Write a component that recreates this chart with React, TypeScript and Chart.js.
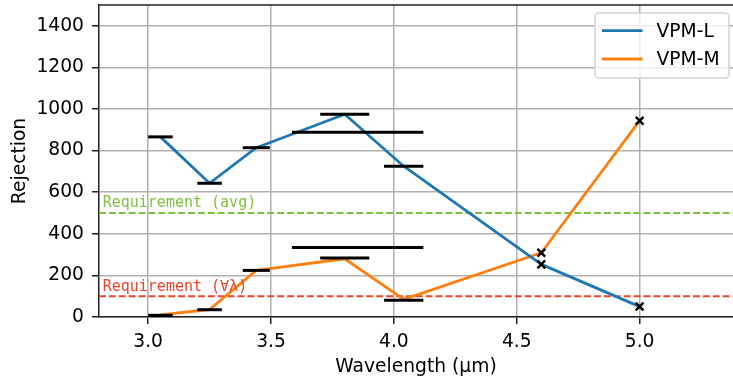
import React, { useEffect, useRef } from "react";
import { Chart, registerables } from "chart.js";

Chart.register(...registerables);

// ---- data ----
const wavelengths = [3.05, 3.25, 3.44, 3.8, 4.04, 4.6, 5.0];
const vpmL = [866, 643, 814, 975, 725, 253, 50];
const vpmM = [10, 36, 224, 280, 85, 309, 944];

const markerWavelengths = [4.6, 5.0];
const markerL = [253, 50];
const markerM = [309, 944];

const bandStart = [3.0, 3.2, 3.385, 3.7, 3.96, 3.585];
const bandEnd = [3.1, 3.3, 3.495, 3.9, 4.12, 4.12];
const bandL = [866, 643, 814, 975, 725, 888];
const bandM = [8, 35, 224, 284, 80, 334];

const requirementAvg = 500;
const requirementAll = 100;

const xTicks = [3.0, 3.5, 4.0, 4.5, 5.0];
const yTicks = [0, 200, 400, 600, 800, 1000, 1200, 1400];
const xMin = 2.8;
const xMax = 5.38;
const yMin = 0;
const yMax = 1500;

const seriesNames = ["VPM-L", "VPM-M"];
const seriesColors = ["#1f77b4", "#ff7f0e"];
const reqLabels = ["Requirement (avg)", "Requirement (\u2200\u03bb)"];
const reqColors = ["#7fbf3f", "#e8452c"];

const FONT = "'DejaVu Sans', sans-serif";
const FS = 18.7;

export default function App() {
  const ref = useRef<HTMLCanvasElement | null>(null);

  useEffect(() => {
    if (!ref.current) return;
    const datasets: any[] = [];

    // markers (on top)
    [markerL, markerM].forEach((vals) => {
      datasets.push({
        data: markerWavelengths.map((x, i) => ({ x, y: vals[i] })),
        showLine: false,
        pointStyle: "crossRot",
        pointRadius: 5.5,
        pointBorderColor: "#000",
        pointBorderWidth: 2.5,
        borderColor: "#000",
        order: 0,
      });
    });

    // band bars
    const addBands = (vals: number[]) => {
      vals.forEach((v, i) => {
        datasets.push({
          data: [
            { x: bandStart[i], y: v },
            { x: bandEnd[i], y: v },
          ],
          borderColor: "#000",
          borderWidth: 3,
          pointRadius: 0,
          borderCapStyle: "butt",
          order: 1,
        });
      });
    };
    addBands(bandL);
    addBands(bandM);

    // series lines
    [vpmL, vpmM].forEach((vals, k) => {
      datasets.push({
        data: wavelengths.map((x, i) => ({ x, y: vals[i] })),
        borderColor: seriesColors[k],
        borderWidth: 2.8,
        pointRadius: 0,
        borderJoinStyle: "round",
        order: 2,
      });
    });

    // requirement lines
    [requirementAvg, requirementAll].forEach((v, i) => {
      datasets.push({
        data: [
          { x: xMin, y: v },
          { x: xMax, y: v },
        ],
        borderColor: reqColors[i],
        borderWidth: 1.9,
        borderDash: [6.9, 3],
        pointRadius: 0,
        order: 3,
      });
    });

    const extras = {
      id: "extras",
      afterDatasetsDraw(chart: any) {
        const { ctx, chartArea, scales } = chart;
        ctx.save();
        // top spine
        ctx.strokeStyle = "#222";
        ctx.lineWidth = 1.5;
        ctx.beginPath();
        ctx.moveTo(chartArea.left - 0.75, chartArea.top);
        ctx.lineTo(chartArea.right, chartArea.top);
        ctx.stroke();

        // requirement labels
        ctx.font = `15px 'DejaVu Sans Mono', monospace`;
        ctx.textAlign = "left";
        ctx.textBaseline = "alphabetic";
        [requirementAvg, requirementAll].forEach((v, i) => {
          ctx.fillStyle = reqColors[i];
          ctx.fillText(
            reqLabels[i],
            scales.x.getPixelForValue(2.815),
            scales.y.getPixelForValue(v) - 5.6
          );
        });

        // legend
        const bx = chartArea.right - 138;
        const by = chartArea.top + 8;
        const bw = 134;
        const bh = 65;
        ctx.fillStyle = "rgba(255,255,255,0.8)";
        ctx.strokeStyle = "#d3d3d3";
        ctx.lineWidth = 1.5;
        ctx.beginPath();
        (ctx as any).roundRect(bx, by, bw, bh, 4);
        ctx.fill();
        ctx.stroke();
        ctx.font = `${FS}px ${FONT}`;
        ctx.textBaseline = "middle";
        seriesNames.forEach((name, i) => {
          const yy = by + 17.7 + i * 28.3;
          ctx.strokeStyle = seriesColors[i];
          ctx.lineWidth = 2.8;
          ctx.beginPath();
          ctx.moveTo(bx + 7, yy);
          ctx.lineTo(bx + 47.5, yy);
          ctx.stroke();
          ctx.fillStyle = "#000";
          ctx.fillText(name, bx + 61.5, yy + 1);
        });
        ctx.restore();
      },
    };

    const zeroPad = (s: any) => {
      s.paddingTop = 0;
      s.paddingBottom = 0;
      s.paddingLeft = 0;
      s.paddingRight = 0;
    };

    const chart = new Chart(ref.current, {
      type: "line",
      data: { datasets },
      options: {
        animation: false,
        responsive: false,
        events: [],
        layout: {
          autoPadding: false,
          padding: { top: 5, right: 0, left: 0, bottom: 0 },
        },
        plugins: { legend: { display: false }, tooltip: { enabled: false } },
        scales: {
          x: {
            type: "linear",
            min: xMin,
            max: xMax,
            afterBuildTicks: (s: any) => {
              s.ticks = xTicks.map((v) => ({ value: v }));
            },
            afterFit: (s: any) => {
              s.height = 64;
              zeroPad(s);
            },
            grid: {
              color: "#b0b0b0",
              lineWidth: 1.5,
              tickLength: 7,
              tickColor: "#222",
              tickWidth: 1.5,
            },
            border: { color: "#222", width: 1.5 },
            ticks: {
              color: "#000",
              padding: 6.5,
              font: { family: FONT, size: FS },
              maxRotation: 0,
              autoSkip: false,
              callback: (v: any) => Number(v).toFixed(1),
            },
            title: {
              display: true,
              text: "Wavelength (\u00b5m)",
              color: "#000",
              font: { family: FONT, size: FS },
              padding: { top: 0, bottom: 3 },
            },
          },
          y: {
            type: "linear",
            min: yMin,
            max: yMax,
            afterBuildTicks: (s: any) => {
              s.ticks = yTicks.map((v) => ({ value: v }));
            },
            afterFit: (s: any) => {
              s.width = 99;
              zeroPad(s);
            },
            grid: {
              color: "#b0b0b0",
              lineWidth: 1.5,
              tickLength: 7,
              tickColor: "#222",
              tickWidth: 1.5,
            },
            border: { color: "#222", width: 1.5 },
            ticks: {
              color: "#000",
              padding: 8,
              font: { family: FONT, size: FS },
              autoSkip: false,
              callback: (v: any) => String(v),
            },
            title: {
              display: true,
              text: "Rejection",
              color: "#000",
              font: { family: FONT, size: FS },
              padding: { top: 9, bottom: 0 },
            },
          },
        },
      } as any,
      plugins: [extras],
    });
    return () => chart.destroy();
  }, []);

  return (
    <div
      style={{
        position: "fixed",
        left: 0,
        top: 0,
        width: 733,
        height: 381,
        background: "#fff",
      }}
    >
      <canvas ref={ref} width={733} height={381} style={{ display: "block" }} />
    </div>
  );
}
